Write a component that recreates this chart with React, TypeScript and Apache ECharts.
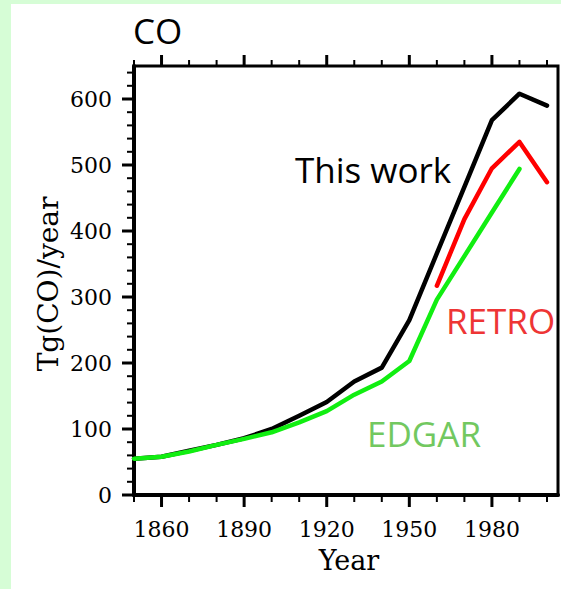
import React, { useEffect, useRef } from "react";
import * as echarts from "echarts";

// ---- data ----
const workYears = [1850, 1860, 1870, 1880, 1890, 1900, 1910, 1920, 1930, 1940, 1950, 1960, 1970, 1980, 1990, 2000];
const workValues = [55, 58, 67, 76, 86, 100, 120, 141, 172, 193, 265, 366, 467, 568, 608, 590];

const edgarYears = [1850, 1860, 1870, 1880, 1890, 1900, 1910, 1920, 1930, 1940, 1950, 1960, 1970, 1980, 1990];
const edgarValues = [55, 58, 66, 76, 85, 95, 110, 127, 152, 172, 203, 296, 362, 428, 494];

const retroYears = [1960, 1970, 1980, 1990, 2000];
const retroValues = [317, 418, 495, 535, 474];

const xLabelYears = [1860, 1890, 1920, 1950, 1980];
const xMajorTicks = [1860, 1890, 1920, 1950, 1980];
const xMinorTicks = [1850, 1870, 1880, 1900, 1910, 1930, 1940, 1960, 1970, 1990, 2000];
const yMajorTicks = [0, 100, 200, 300, 400, 500, 600];
const yMinorTicks = [
  20, 40, 60, 80, 120, 140, 160, 180, 220, 240, 260, 280, 320, 340, 360, 380,
  420, 440, 460, 480, 520, 540, 560, 580, 620, 640,
];

const X_MIN = 1850;
const X_MAX = 2004;
const Y_MIN = 0;
const Y_MAX = 650;

function pair(xs: number[], ys: number[]) {
  return xs.map((x, i) => [x, ys[i]]);
}

function tickSeries(points: number[][], dx: number, dy: number, width: number) {
  return {
    type: "custom",
    clip: false,
    silent: true,
    z: 5,
    data: points,
    renderItem: (_params: any, api: any) => {
      const p = api.coord([api.value(0), api.value(1)]);
      return {
        type: "line",
        shape: { x1: p[0], y1: p[1], x2: p[0] + dx, y2: p[1] + dy },
        style: { stroke: "#000", lineWidth: width },
      };
    },
  };
}

export default function App() {
  const ref = useRef<HTMLDivElement>(null);

  useEffect(() => {
    const chart = echarts.init(ref.current!, null, { renderer: "svg" });
    const serif = "DejaVu Serif";
    const sans = "Open Sans";

    const option: any = {
      animation: false,
      backgroundColor: "transparent",
      grid: {
        left: 123,
        top: 62,
        right: 2,
        bottom: 94,
        show: true,
        borderColor: "#000",
        borderWidth: 3,
        backgroundColor: "transparent",
      },
      xAxis: {
        type: "value",
        min: X_MIN,
        max: X_MAX,
        interval: 10,
        axisLine: { show: true, lineStyle: { color: "#000", width: 4 } },
        axisTick: { show: false },
        splitLine: { show: false },
        axisLabel: {
          margin: 23,
          color: "#000",
          fontFamily: serif,
          fontSize: 22,
          formatter: (v: number) => (xLabelYears.indexOf(v) >= 0 ? String(v) : ""),
        },
      },
      yAxis: {
        type: "value",
        min: Y_MIN,
        max: Y_MAX,
        interval: 100,
        axisLine: { show: true, lineStyle: { color: "#000", width: 4 } },
        axisTick: { show: false },
        splitLine: { show: false },
        axisLabel: {
          margin: 22,
          color: "#000",
          fontFamily: serif,
          fontSize: 22,
          showMaxLabel: false,
          formatter: (v: number) => (yMajorTicks.indexOf(v) >= 0 ? String(v) : ""),
        },
      },
      graphic: [
        {
          type: "text",
          x: 122,
          y: 26,
          style: { text: "CO", fontFamily: sans, fontSize: 35, fill: "#000", align: "left", verticalAlign: "middle" },
        },
        {
          type: "text",
          x: 284,
          y: 165,
          style: { text: "This work", fontFamily: sans, fontSize: 35, fill: "#000", align: "left", verticalAlign: "middle" },
        },
        {
          type: "text",
          x: 435,
          y: 316,
          style: { text: "RETRO", fontFamily: sans, fontSize: 35, fill: "#ee3535", align: "left", verticalAlign: "middle" },
        },
        {
          type: "text",
          x: 356,
          y: 429,
          style: { text: "EDGAR", fontFamily: sans, fontSize: 35, fill: "#72c860", align: "left", verticalAlign: "middle" },
        },
        {
          type: "text",
          x: 338,
          y: 556,
          style: { text: "Year", fontFamily: serif, fontSize: 27, fill: "#000", align: "center", verticalAlign: "middle" },
        },
        {
          type: "text",
          x: 37,
          y: 280,
          rotation: Math.PI / 2,
          style: { text: "Tg(CO)/year", fontFamily: serif, fontSize: 28, fill: "#000", align: "center", verticalAlign: "middle" },
        },
      ],
      series: [
        {
          type: "line",
          name: "This work",
          data: pair(workYears, workValues),
          showSymbol: false,
          lineStyle: { color: "#000", width: 4.5, cap: "round", join: "round" },
          z: 3,
        },
        {
          type: "line",
          name: "RETRO",
          data: pair(retroYears, retroValues),
          showSymbol: false,
          lineStyle: { color: "#ff0000", width: 4.5, cap: "round", join: "round" },
          z: 3,
        },
        {
          type: "line",
          name: "EDGAR",
          data: pair(edgarYears, edgarValues),
          showSymbol: false,
          lineStyle: { color: "#11ee11", width: 4.5, cap: "round", join: "round" },
          z: 3,
        },
        tickSeries(xMajorTicks.map((v) => [v, Y_MIN]), 0, 12, 3),
        tickSeries(xMinorTicks.map((v) => [v, Y_MIN]), 0, 7, 2),
        tickSeries(xMajorTicks.map((v) => [v, Y_MAX]), 0, -11, 3),
        tickSeries(xMinorTicks.map((v) => [v, Y_MAX]), 0, -6, 2),
        tickSeries(yMajorTicks.map((v) => [X_MIN, v]), -12, 0, 3),
        tickSeries(yMinorTicks.map((v) => [X_MIN, v]), -7, 0, 2),
      ],
    };

    chart.setOption(option);
    return () => chart.dispose();
  }, []);

  return (
    <div style={{ position: "fixed", left: 0, top: 0, width: 561, height: 589, background: "#d6fdd6", overflow: "hidden" }}>
      <div ref={ref} style={{ position: "absolute", left: 11, top: 4, width: 550, height: 585, background: "#fff" }} />
    </div>
  );
}
